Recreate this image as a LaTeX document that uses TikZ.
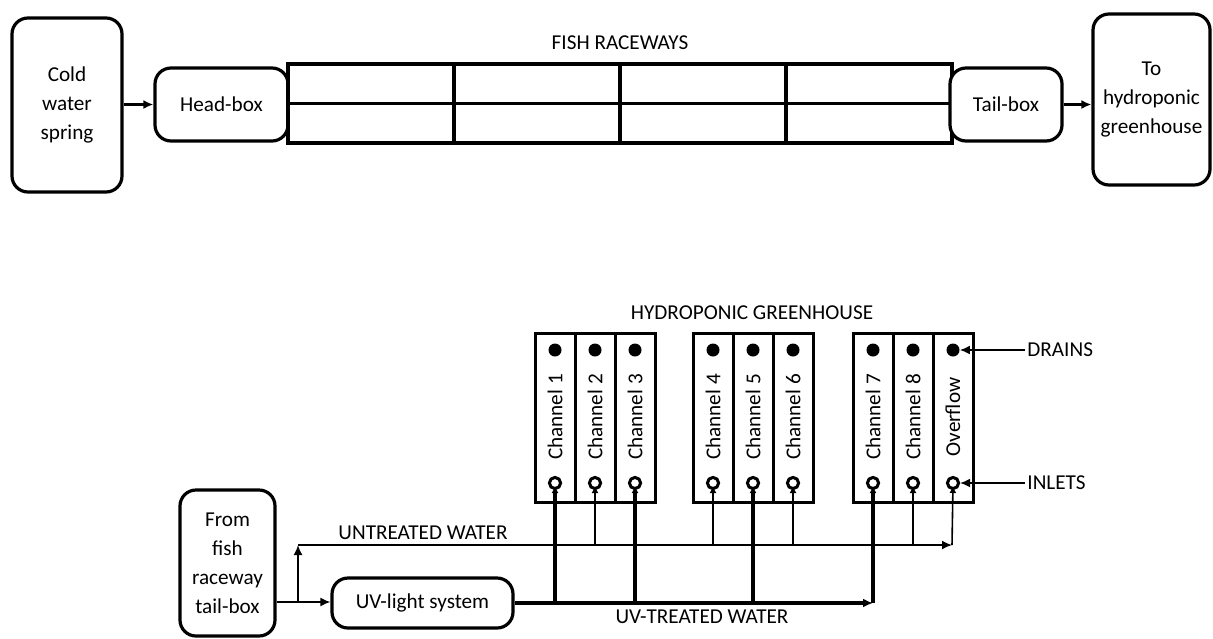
\documentclass[tikz,border=0pt]{standalone}
\usepackage{fontspec}
\setmainfont{Carlito}
\usetikzlibrary{arrows.meta, positioning}

\begin{document}
\begin{tikzpicture}[
  x=0.5pt, y=-0.5pt,
  font=\fontsize{10.6}{14.5}\selectfont,
  box/.style={draw, line width=1.6pt, rounded corners=8pt, align=center, inner sep=0pt},
  chan/.style={draw, line width=1.5pt, minimum width=20pt, minimum height=84.5pt, inner sep=0pt},
  chanlabel/.style={rotate=90, inner sep=0pt},
  drain/.style={circle, fill, minimum size=6.5pt, inner sep=0pt},
  inlet/.style={circle, draw, line width=1.5pt, minimum size=5.6pt, inner sep=0pt},
  tag/.style={inner sep=1pt},
  flow/.style={-{Latex[length=5pt, width=4.5pt]}, line width=1.6pt},
  pipe/.style={line width=0.8pt},
  uvpipe/.style={line width=1.6pt},
  tip/.style={-{Latex[length=5pt, width=4.5pt]}},
  smalltip/.style={-{Latex[length=3.5pt, width=3.5pt]}, shorten >=1.5pt}
]
\useasboundingbox (0,0) rectangle (1213,638);

% fish raceways
\node[box, minimum width=55pt, minimum height=87pt] (spring) at (67,105) {Cold\\water\\spring};
\node[box, minimum width=66.5pt, minimum height=36.5pt] (head) at (221.5,104.5) {Head-box};
\node[draw, line width=1.7pt, minimum width=332pt, minimum height=39.5pt, inner sep=0pt] (race) at (620,103.5) {};
\draw[line width=1.7pt] (race.west) -- (race.east);
\foreach \x in {454,620,786}
  \draw[line width=1.7pt] (\x,64) -- (\x,143);
\node[tag] (racetitle) at (620,43) {FISH RACEWAYS};
\node[box, fill=white, minimum width=56pt, minimum height=36.5pt] (tail) at (1006,104.5) {Tail-box};
\node[box, minimum width=58.5pt, minimum height=85.5pt] (togh) at (1151.5,99.5) {To\\hydroponic\\greenhouse};
\draw[flow] (spring.east |- head) -- (head.west);
\draw[flow] (tail.east) -- (tail.east -| togh.west);

% hydroponic greenhouse
\node[tag] (ghtitle) at (752,313) {HYDROPONIC GREENHOUSE};
\foreach \i/\x/\t in {1/555/Channel 1, 2/595/Channel 2, 3/635/Channel 3,
                      4/713/Channel 4, 5/753/Channel 5, 6/793/Channel 6,
                      7/873/Channel 7, 8/913/Channel 8, 9/953/Overflow} {
  \node[chan] (ch\i) at (\x,417.5) {};
  \node[chanlabel] (lb\i) at (\x,417) {\t};
  \node[drain] (dr\i) at (\x,350) {};
  \node[inlet] (in\i) at (\x,483) {};
}
\node[tag, anchor=west] (drains) at (1025,350) {DRAINS};
\node[tag, anchor=west] (inlets) at (1025,483) {INLETS};
\draw[pipe, tip] (drains.west) -- (dr9.east);
\draw[pipe, tip] (inlets.west) -- (in9.east);

% water supply
\node[box, minimum width=47.5pt, minimum height=73pt] (fromtail) at (227.5,563) {From\\fish\\raceway\\tail-box};
\node[box, minimum width=90.5pt, minimum height=25pt] (uv) at (422.5,603) {UV-light system};
\coordinate (split) at (298,602);
\coordinate (utstart) at (298,545);
\coordinate (utend) at (952,545);
\coordinate (uvend) at (873,603);
\draw[pipe] (fromtail.east |- split) -- (split);
\draw[pipe, tip] (split) -- (uv.west |- split);
\draw[pipe, tip] (split) -- (utstart);
\draw[pipe, tip] (utstart) -- (utend);
\draw[pipe, smalltip] (utend) -- (in9.center);
\foreach \i in {2,4,6,8}
  \draw[pipe, smalltip] (in\i |- utstart) -- (in\i.center);
\draw[uvpipe, tip] (uv.east) -- (uvend);
\draw[uvpipe, smalltip] (uvend) -- (in7.center);
\foreach \i in {1,3,5}
  \draw[uvpipe, smalltip] (in\i |- uvend) -- (in\i.center);
\node[tag] (uttitle) at (423,533) {UNTREATED WATER};
\node[tag] (uvtitle) at (702,617) {UV-TREATED WATER};
\end{tikzpicture}
\end{document}
